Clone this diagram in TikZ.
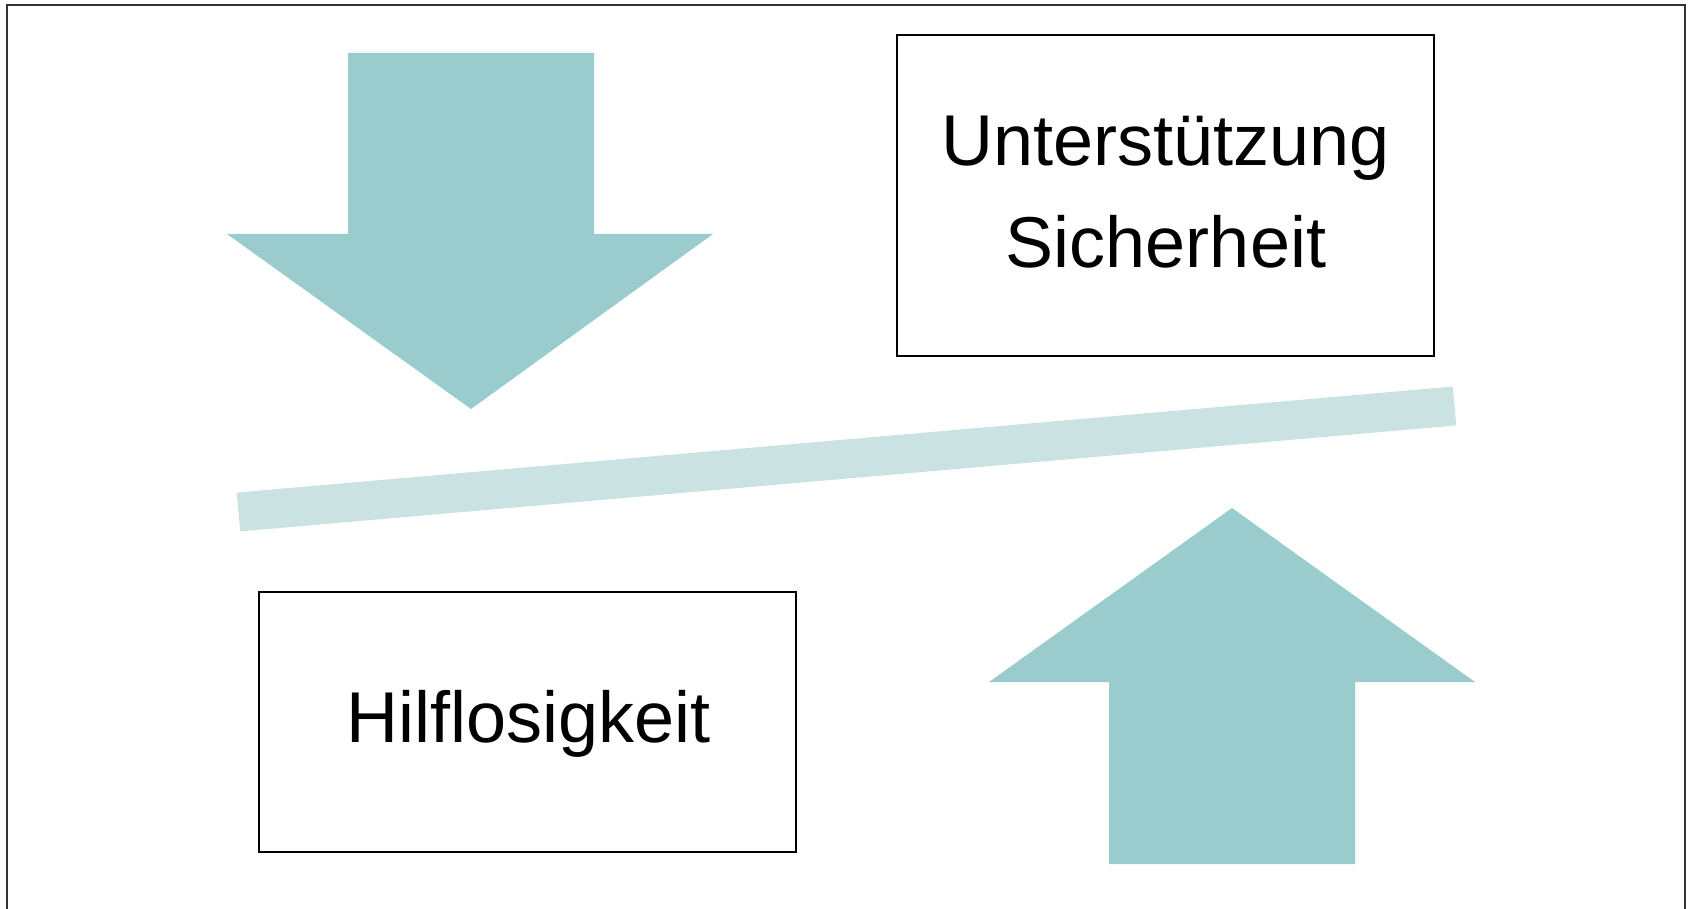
\documentclass[tikz,border=0pt]{standalone}
\usepackage{fontspec}
\setmainfont{Liberation Sans}
\definecolor{arrowfill}{HTML}{9BCCCD}
\definecolor{barfill}{HTML}{CBE2E2}
\tikzset{
  frame/.style={draw=black!80, line width=2pt},
  textbox/.style={draw=black, line width=2pt, rectangle, inner sep=0pt},
  bigarrow/.style={fill=arrowfill, draw=none},
  lbl/.style={font=\fontsize{72}{86}\selectfont, anchor=base, inner sep=0pt}
}
\begin{document}
\begin{tikzpicture}[x=1pt,y=-1pt]
\useasboundingbox (0,0) rectangle (1690,909);
\fill[white] (0,0) rectangle (1690,909);
% outer frame (bottom edge lies outside the picture)
\draw[frame] (7,915) -- (7,5) -- (1685,5) -- (1685,915);
% down arrow
\fill[bigarrow] (348,53) -- (594,53) -- (594,234) -- (713,234) -- (471,409) -- (227,234) -- (348,234) -- cycle;
% up arrow
\fill[bigarrow] (1109,864) -- (1355,864) -- (1355,682) -- (1475,682) -- (1232,508) -- (989,682) -- (1109,682) -- cycle;
% tilted bar
\coordinate (barL) at (238.5,512);
\coordinate (barR) at (1454.5,406);
\draw[barfill, line width=39pt] (barL) -- (barR);
% boxes
\node[textbox, minimum width=537pt, minimum height=321pt] (top) at (1165.5,195.5) {};
\node[textbox, minimum width=537pt, minimum height=260pt] (bot) at (527.5,722) {};
% labels
\node[lbl] (t1) at (1165.5,166) {Unterstützung};
\node[lbl] (t2) at (1166,268) {Sicherheit};
\node[lbl] (t3) at (529,742) {Hilflosigkeit};
\end{tikzpicture}
\end{document}
